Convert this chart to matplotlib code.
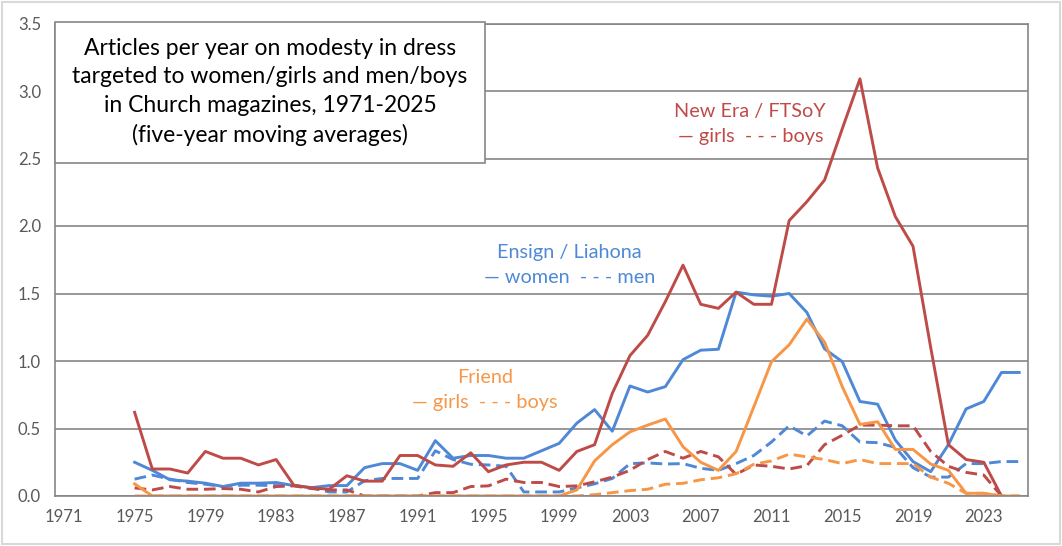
import numpy as np
import matplotlib
matplotlib.use("Agg")
import matplotlib.pyplot as plt
from matplotlib.patches import Rectangle

plt.rcParams['font.family'] = ['Lato', 'DejaVu Sans']

nan = np.nan
years = list(range(1975, 2026))

# New Era / FTSoY
ne_girls = [0.62, 0.20, 0.20, 0.17, 0.33, 0.28, 0.28, 0.23, 0.27, 0.08,
            0.06, 0.05, 0.15, 0.11, 0.11, 0.30, 0.30, 0.23, 0.22, 0.32,
            0.18, 0.23, 0.25, 0.25, 0.19, 0.33, 0.38, 0.76, 1.04, 1.19,
            1.44, 1.71, 1.42, 1.39, 1.51, 1.42, 1.42, 2.04, 2.18, 2.34,
            2.72, 3.09, 2.43, 2.07, 1.85, 1.10, 0.38, 0.27, 0.25, 0.0, nan]
ne_boys = [0.06, 0.045, 0.07, 0.05, 0.05, 0.055, 0.05, 0.03, 0.07, 0.075,
           0.055, 0.045, 0.045, 0.0, 0.0, 0.0, 0.0, 0.025, 0.025, 0.07,
           0.075, 0.125, 0.10, 0.10, 0.07, 0.075, 0.105, 0.14, 0.19, 0.27,
           0.33, 0.28, 0.33, 0.29, 0.16, 0.23, 0.22, 0.20, 0.225, 0.38,
           0.45, 0.525, 0.525, 0.52, 0.52, 0.33, 0.22, 0.175, 0.155, 0.0, nan]

# Ensign / Liahona
el_women = [0.25, 0.19, 0.12, 0.11, 0.095, 0.07, 0.095, 0.095, 0.10, 0.077,
            0.062, 0.077, 0.077, 0.21, 0.24, 0.24, 0.19, 0.41, 0.28, 0.30,
            0.30, 0.28, 0.28, 0.335, 0.39, 0.54, 0.64, 0.48, 0.815, 0.77,
            0.81, 1.01, 1.08, 1.087, 1.51, 1.49, 1.48, 1.50, 1.36, 1.09,
            0.995, 0.70, 0.68, 0.415, 0.255, 0.18, 0.38, 0.645, 0.70, 0.915, 0.915]
el_men = [0.125, 0.155, 0.125, 0.10, 0.087, 0.07, 0.08, 0.08, 0.077, 0.077,
          0.06, 0.03, 0.03, 0.113, 0.13, 0.13, 0.13, 0.335, 0.27, 0.235,
          0.23, 0.22, 0.03, 0.03, 0.03, 0.06, 0.09, 0.13, 0.24, 0.245,
          0.237, 0.24, 0.205, 0.19, 0.24, 0.30, 0.40, 0.52, 0.445, 0.555,
          0.52, 0.40, 0.395, 0.36, 0.21, 0.14, 0.14, 0.24, 0.24, 0.255, 0.255]

# Friend
fr_girls = [0.09, 0.0, 0.0, 0.0, 0.0, 0.0, 0.0, 0.0, 0.0, 0.0,
            0.0, 0.0, 0.0, 0.0, 0.0, 0.0, 0.0, 0.0, 0.0, 0.0,
            0.0, 0.0, 0.0, 0.0, 0.0, 0.045, 0.26, 0.38, 0.475, 0.525,
            0.57, 0.365, 0.25, 0.19, 0.33, 0.66, 0.995, 1.12, 1.31, 1.14,
            0.81, 0.53, 0.55, 0.345, 0.345, 0.237, 0.19, 0.02, 0.02, 0.0, 0.0]
fr_boys = [0.0, 0.0, 0.0, 0.0, 0.0, 0.0, 0.0, 0.0, 0.0, 0.0,
           0.0, 0.0, 0.0, 0.0, 0.0, 0.0, 0.0, 0.0, 0.0, 0.0,
           0.0, 0.0, 0.0, 0.0, 0.0, 0.0, 0.01, 0.025, 0.04, 0.05,
           0.087, 0.094, 0.12, 0.135, 0.165, 0.235, 0.26, 0.31, 0.29, 0.27,
           0.24, 0.27, 0.24, 0.24, 0.24, 0.14, 0.094, 0.02, 0.02, 0.0, 0.0]

tick_years = list(range(1971, 2024, 4))

BLUE = '#4E88D6'
RED = '#BE4B48'
ORANGE = '#F79646'
GRID = '#868686'
DASH = (4, 2)

fig = plt.figure(figsize=(10.62, 5.46), dpi=100)
ax = fig.add_axes([55 / 1062, 1 - 496 / 546, (1028 - 55) / 1062, (496 - 23.5) / 546])

lw = 2.1
ax.plot(years, el_women, color=BLUE, lw=lw)
ax.plot(years, el_men, color=BLUE, lw=lw, dashes=DASH)
ax.plot(years, ne_girls, color=RED, lw=lw)
ax.plot(years, ne_boys, color=RED, lw=lw, dashes=DASH)
ax.plot(years, fr_girls, color=ORANGE, lw=lw)
ax.plot(years, fr_boys, color=ORANGE, lw=lw, dashes=DASH)

ax.set_xlim(1970.5, 2025.5)
ax.set_ylim(0, 3.5)
ax.set_yticks(np.arange(0, 3.51, 0.5))
ax.set_yticklabels([f"{v:.1f}" for v in np.arange(0, 3.51, 0.5)])
ax.set_xticks(tick_years)
ax.set_xticklabels([str(y) for y in tick_years])
ax.yaxis.grid(True, color=GRID, lw=1.2)
ax.set_axisbelow(True)
for s in ax.spines.values():
    s.set_color(GRID)
    s.set_linewidth(1.2)
ax.tick_params(axis='both', length=0, labelsize=12, colors='#595959')
ax.tick_params(axis='x', pad=9)
ax.tick_params(axis='y', pad=10)

# series labels
lab = dict(fontsize=14.3, ha='center', va='center', linespacing=1.55)
ax.text(1999.6, 1.71, "Ensign / Liahona\n— women  - - - men", color=BLUE, **lab)
ax.text(1994.8, 0.785, "Friend\n— girls  - - - boys", color=ORANGE, **lab)
ax.text(2009.8, 2.755, "New Era / FTSoY\n— girls  - - - boys", color=RED, **lab)

# title box
fig.add_artist(Rectangle((55 / 1062, 1 - 163 / 546), 430 / 1062, 141 / 546,
                         transform=fig.transFigure, facecolor='white',
                         edgecolor=GRID, lw=1.2, zorder=5))
fig.text(270 / 1062, 1 - 92 / 546,
         "Articles per year on modesty in dress\ntargeted to women/girls and men/boys\n"
         "in Church magazines, 1971-2025\n(five-year moving averages)",
         ha='center', va='center', fontsize=16.5, linespacing=1.45, zorder=6)

# outer border
fig.add_artist(Rectangle((0.002, 0.003), 0.996, 0.994, transform=fig.transFigure,
                         facecolor='none', edgecolor='#D9D9D9', lw=1.5))

fig.savefig("out.png", dpi=100)
